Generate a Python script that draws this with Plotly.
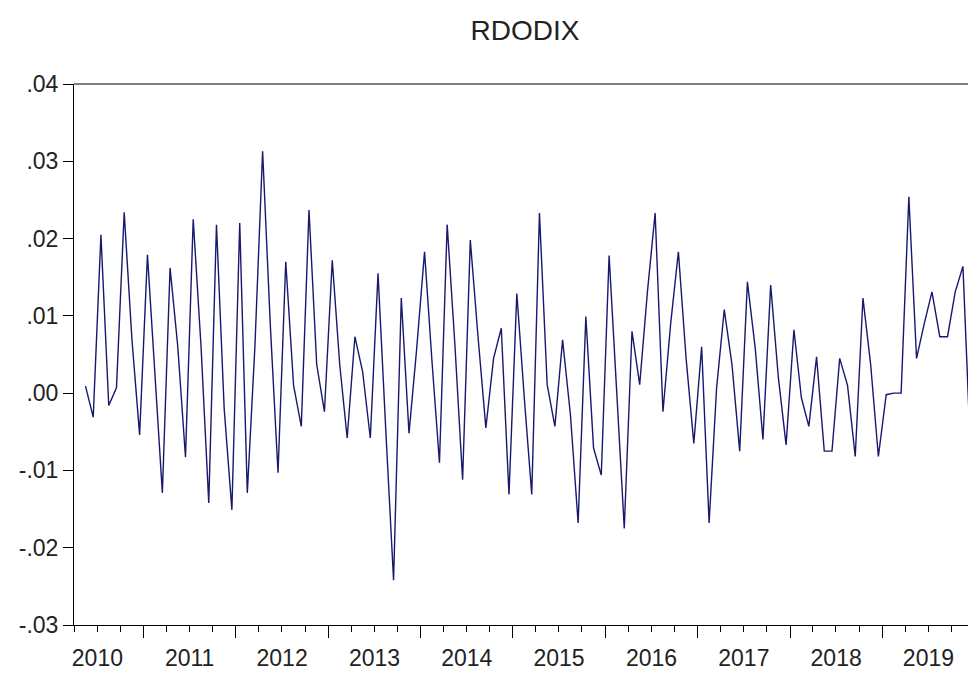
import plotly.graph_objects as go

# Monthly RDODIX, May 2010 - Dec 2019 (April 2010 is lost to differencing)
months = [f"{y}-{m:02d}" for y in range(2010, 2020) for m in range(1, 13)][4:]

rdodix = [
    # 2010 (May-Dec)
    0.0009, -0.0031, 0.0205, -0.0016, 0.0007, 0.0234, 0.0070, -0.0054,
    # 2011
    0.0179, 0.0025, -0.0129, 0.0162, 0.0060, -0.0083, 0.0225, 0.0060, -0.0142, 0.0218, -0.0020, -0.0151,
    # 2012
    0.0220, -0.0129, 0.0060, 0.0313, 0.0088, -0.0103, 0.0170, 0.0010, -0.0043, 0.0237, 0.0037, -0.0024,
    # 2013
    0.0172, 0.0037, -0.0058, 0.0073, 0.0028, -0.0058, 0.0155, -0.0050, -0.0242, 0.0123, -0.0052, 0.0058,
    # 2014
    0.0183, 0.0041, -0.0090, 0.0218, 0.0063, -0.0112, 0.0198, 0.0071, -0.0045, 0.0045, 0.0084, -0.0131,
    # 2015
    0.0129, -0.0006, -0.0131, 0.0233, 0.0011, -0.0043, 0.0069, -0.0028, -0.0168, 0.0099, -0.0071, -0.0106,
    # 2016
    0.0178, 0.0002, -0.0175, 0.0080, 0.0011, 0.0131, 0.0233, -0.0024, 0.0090, 0.0183, 0.0045, -0.0065,
    # 2017
    0.0060, -0.0168, 0.0006, 0.0108, 0.0037, -0.0075, 0.0144, 0.0058, -0.0060, 0.0140, 0.0020, -0.0067,
    # 2018
    0.0082, -0.0006, -0.0043, 0.0047, -0.0075, -0.0075, 0.0045, 0.0010, -0.0082, 0.0123, 0.0037, -0.0082,
    # 2019
    -0.0002, 0.0000, 0.0000, 0.0254, 0.0045, 0.0090, 0.0131, 0.0073, 0.0073, 0.0131, 0.0164, -0.0080,
]

y_tickvals = [0.04, 0.03, 0.02, 0.01, 0.0, -0.01, -0.02, -0.03]
y_ticktext = [".04", ".03", ".02", ".01", ".00", "-.01", "-.02", "-.03"]

FONT = "Arial, Liberation Sans, sans-serif"
TEXT = "#222222"

fig = go.Figure()
fig.add_trace(go.Scatter(
    x=months,
    y=rdodix,
    xperiod="M1",
    xperiodalignment="middle",
    mode="lines",
    line=dict(color="#18186e", width=1.4),
    hoverinfo="x+y",
    showlegend=False,
))

fig.update_layout(
    width=968,
    height=674,
    margin=dict(l=74, r=0, t=84, b=49),
    paper_bgcolor="white",
    plot_bgcolor="white",
    title=dict(
        text="RDODIX",
        x=0.5045, xref="paper", xanchor="center",
        y=0.955, yref="container", yanchor="middle",
        font=dict(family=FONT, size=28, color=TEXT),
    ),
    xaxis=dict(
        type="date",
        range=["2010-04-01", "2019-12-06"],
        tick0="2010-01-01",
        dtick="M12",
        tickformat="%Y",
        ticklabelmode="period",
        ticks="outside",
        ticklen=12,
        tickwidth=1,
        tickcolor="black",
        minor=dict(dtick="M3", ticks="outside", ticklen=6, tickwidth=1, tickcolor="black"),
        showline=True,
        linecolor="black",
        linewidth=1,
        showgrid=False,
        zeroline=False,
        tickfont=dict(family=FONT, size=23, color=TEXT),
    ),
    yaxis=dict(
        range=[-0.03, 0.04],
        tickvals=y_tickvals,
        ticktext=y_ticktext,
        ticks="outside",
        ticklen=10,
        tickwidth=1,
        tickcolor="black",
        showline=True,
        linecolor="black",
        linewidth=1,
        showgrid=False,
        zeroline=False,
        tickfont=dict(family=FONT, size=23, color=TEXT),
    ),
    shapes=[
        # top frame line (the right side runs past the page edge)
        dict(type="line", xref="paper", yref="paper", x0=0, x1=1, y0=1, y1=1,
             line=dict(color="black", width=1)),
    ],
)

fig.write_html("out.html")
